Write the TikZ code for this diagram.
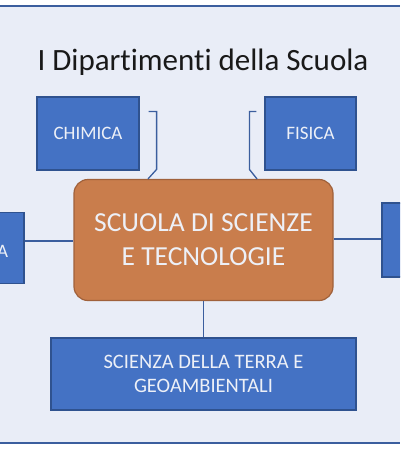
\documentclass[tikz,border=0pt]{standalone}
\usepackage{fontspec}
\setmainfont[Ligatures=NoCommon]{Carlito}
\usetikzlibrary{positioning}
\definecolor{bgpale}{HTML}{E9EDF7}
\definecolor{deptblue}{HTML}{4472C4}
\definecolor{deptedge}{HTML}{2F528F}
\definecolor{schoolor}{HTML}{C97D4C}
\definecolor{schooledge}{HTML}{A0613B}
\definecolor{linkblue}{HTML}{3B5E9E}
\definecolor{paletext}{HTML}{EDF0F7}
\tikzset{
  dept/.style={draw=deptedge, line width=1.2pt, fill=deptblue, text=paletext, font=\fontsize{19}{23.5}\selectfont, align=center, inner sep=0pt},
  school/.style={draw=schooledge, line width=1.2pt, fill=schoolor, rounded corners=14pt, text=paletext, font=\fontsize{27.5}{34}\selectfont, align=center},
  link/.style={draw=linkblue, line width=1.3pt},
  frame/.style={draw=linkblue, line width=1.8pt},
}

\begin{document}
\begin{tikzpicture}[x=1pt, y=-1pt]
    \useasboundingbox (0,0) rectangle (400,450);
    \clip (0,0) rectangle (400,450);
    \fill[bgpale] (0,6) rectangle (400,443);
    \draw[frame] (0,6) -- (400,6);
    \draw[frame] (0,443) -- (400,443);
    \node[anchor=base, font=\fontsize{31}{36}\selectfont, text=black!90] (title) at (203,70) {I Dipartimenti della Scuola};
    \node[school, minimum width=259pt, minimum height=121pt] (scuola) at (203.5,240) {SCUOLA DI SCIENZE\\E TECNOLOGIE};
    \node[dept, minimum width=102pt, minimum height=73pt] (chim) at (88,133.5) {CHIMICA};
    \node[dept, minimum width=91pt, minimum height=73pt] (fis) at (310.5,133.5) {FISICA};
    \node[dept, minimum width=84pt, minimum height=71pt] (biol) at (-18,248) {};
    \node[text=paletext, font=\fontsize{19}{23.5}\selectfont, anchor=base] (biolA) at (2.5,257) {A};
    \node[dept, minimum width=58pt, minimum height=74pt] (destra) at (411,240) {};
    \node[dept, minimum width=305pt, minimum height=72pt, font=\fontsize{20.5}{24}\selectfont] (geo) at (203.5,374) {SCIENZA DELLA TERRA E\\GEOAMBIENTALI};
    \draw[link] ([shift={(9,15)}]chim.north east) -- ++(8,0) -- ++(0,58) -- ([xshift=-55.5pt]scuola.north);
    \draw[link] ([shift={(-8,15)}]fis.north west) -- ++(-7,0) -- ++(0,58) -- ([xshift=53.5pt]scuola.north);
    \draw[link] (biol.east |- 0,241) -- (scuola.west |- 0,241);
    \draw[link] (scuola.east |- 0,239) -- (destra.west |- 0,239);
    \draw[link] (scuola.south) -- (geo.north);
  \end{tikzpicture}
\end{document}
